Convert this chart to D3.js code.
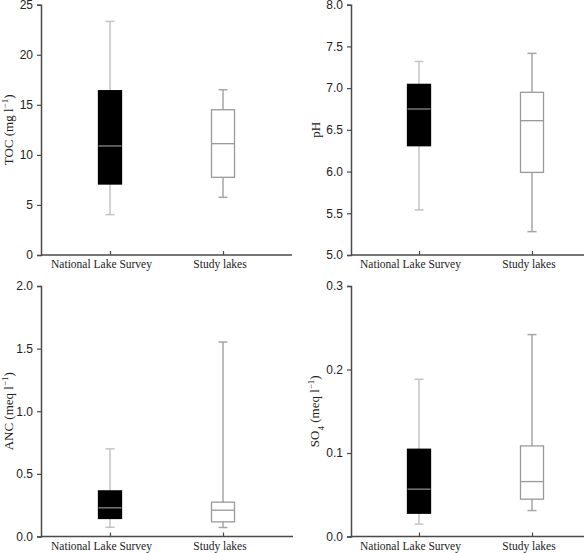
<!DOCTYPE html>
<html><head><meta charset="utf-8">
<script src="https://cdn.jsdelivr.net/npm/d3@7"></script>
<style>body{margin:0;background:#fff}svg{display:block}</style>
</head><body>
<svg id="c" width="585" height="553"></svg>
<script>
const categories = ["National Lake Survey", "Study lakes"];
// [min, q1, median, q3, max] per category
const tocValues = [[4.03, 7.09, 10.89, 16.41, 23.33], [5.76, 7.76, 11.12, 14.51, 16.51]];
const phValues  = [[5.54, 6.31, 6.75, 7.045, 7.32], [5.28, 5.99, 6.61, 6.95, 7.417]];
const ancValues = [[0.074, 0.144, 0.229, 0.364, 0.70], [0.072, 0.117, 0.210, 0.274, 1.553]];
const so4Values = [[0.0148, 0.0279, 0.0567, 0.1045, 0.1883], [0.0311, 0.0447, 0.0658, 0.1085, 0.2418]];
const tocTicks = [0, 5, 10, 15, 20, 25];
const phTicks = [5.0, 5.5, 6.0, 6.5, 7.0, 7.5, 8.0];
const ancTicks = [0.0, 0.5, 1.0, 1.5, 2.0];
const so4Ticks = [0.0, 0.1, 0.2, 0.3];

const panels = [
  {values: tocValues, ticks: tocTicks, fmt: d3.format("d"), title: ["TOC (mg l", "−1", ")"], sub: false,
   x0: 41, x1: 292, c0: 110, c1: 223, y0: 255, y1: 4.7, tx: 13},
  {values: phValues, ticks: phTicks, fmt: d3.format(".1f"), title: ["pH"], sub: false,
   x0: 351, x1: 584, c0: 419, c1: 532, y0: 255, y1: 4.7, tx: 320},
  {values: ancValues, ticks: ancTicks, fmt: d3.format(".1f"), title: ["ANC (meq l", "−1", ")"], sub: false,
   x0: 41, x1: 293, c0: 110, c1: 223, y0: 536.5, y1: 286, tx: 13},
  {values: so4Values, ticks: so4Ticks, fmt: d3.format(".1f"), title: ["SO", "4", " (meq l", "−1", ")"], sub: true,
   x0: 351, x1: 584, c0: 419, c1: 532, y0: 536.5, y1: 286, tx: 319}
];
const labelShift = [-9, -3.5];

const svg = d3.select("#c");
const axisColor = "#4a4a4a";
const boxW = 23, capW = 9;
const styles = [
  {fill: "#000", stroke: "#000", median: "#8a8a8a", whisker: "#c4c4c4"},
  {fill: "#fff", stroke: "#9a9a9a", median: "#9a9a9a", whisker: "#a6a6a6"}
];

panels.forEach(p => {
  const g = svg.append("g");
  const y = d3.scaleLinear().domain([p.ticks[0], p.ticks[p.ticks.length - 1]]).range([p.y0, p.y1]);
  const x = d3.scalePoint().domain(categories).range([p.c0, p.c1]);

  // y axis
  const ya = g.append("g").attr("transform", `translate(${p.x0},0)`)
    .call(d3.axisLeft(y).tickValues(p.ticks).tickFormat(p.fmt).tickSize(4).tickPadding(4));
  ya.select(".domain").attr("stroke", axisColor).attr("stroke-width", 1.5);
  ya.selectAll(".tick line").attr("stroke", axisColor).attr("stroke-width", 1.2);
  ya.selectAll(".tick text").attr("fill", "#222").style("font-family", "Liberation Sans, Arial, sans-serif").style("font-size", "12px");

  // x axis
  const xa = g.append("g").attr("transform", `translate(0,${p.y0})`)
    .call(d3.axisBottom(x).tickSize(-4));
  xa.select(".domain").remove();
  xa.selectAll(".tick line").attr("stroke", axisColor).attr("stroke-width", 1.2);
  xa.selectAll(".tick text").attr("fill", "#222").attr("y", 13).attr("dy", 0)
    .attr("dx", (d, i) => labelShift[i])
    .style("font-family", "Liberation Serif, Times New Roman, serif").style("font-size", "11.5px");
  g.append("line").attr("x1", p.x0).attr("x2", p.x1).attr("y1", p.y0).attr("y2", p.y0)
    .attr("stroke", axisColor).attr("stroke-width", 1.5);

  // boxes
  categories.forEach((cat, i) => {
    const v = p.values[i], s = styles[i], cx = x(cat);
    g.append("line").attr("x1", cx).attr("x2", cx).attr("y1", y(v[0])).attr("y2", y(v[4]))
      .attr("stroke", s.whisker).attr("stroke-width", 1.5);
    [v[0], v[4]].forEach(w => g.append("line").attr("x1", cx - capW / 2).attr("x2", cx + capW / 2)
      .attr("y1", y(w)).attr("y2", y(w)).attr("stroke", s.whisker).attr("stroke-width", 1.5));
    g.append("rect").attr("x", cx - boxW / 2).attr("width", boxW)
      .attr("y", y(v[3])).attr("height", y(v[1]) - y(v[3]))
      .attr("fill", s.fill).attr("stroke", s.stroke).attr("stroke-width", 1.3);
    g.append("line").attr("x1", cx - boxW / 2).attr("x2", cx + boxW / 2)
      .attr("y1", y(v[2])).attr("y2", y(v[2])).attr("stroke", s.median).attr("stroke-width", 1.3);
  });

  // y title
  const cy = (p.y0 + p.y1) / 2;
  const t = g.append("text").attr("transform", `translate(${p.tx},${cy}) rotate(-90)`)
    .attr("text-anchor", "middle")
    .style("font-family", "Liberation Serif, Times New Roman, serif").style("font-size", "13px").attr("fill", "#222");
  p.title.forEach(part => {
    const ts = t.append("tspan").text(part);
    if (part === "−1") ts.attr("baseline-shift", "super").style("font-size", "9px");
    if (p.sub && part === "4") ts.attr("baseline-shift", "sub").style("font-size", "9px");
  });
});
</script>
</body></html>
